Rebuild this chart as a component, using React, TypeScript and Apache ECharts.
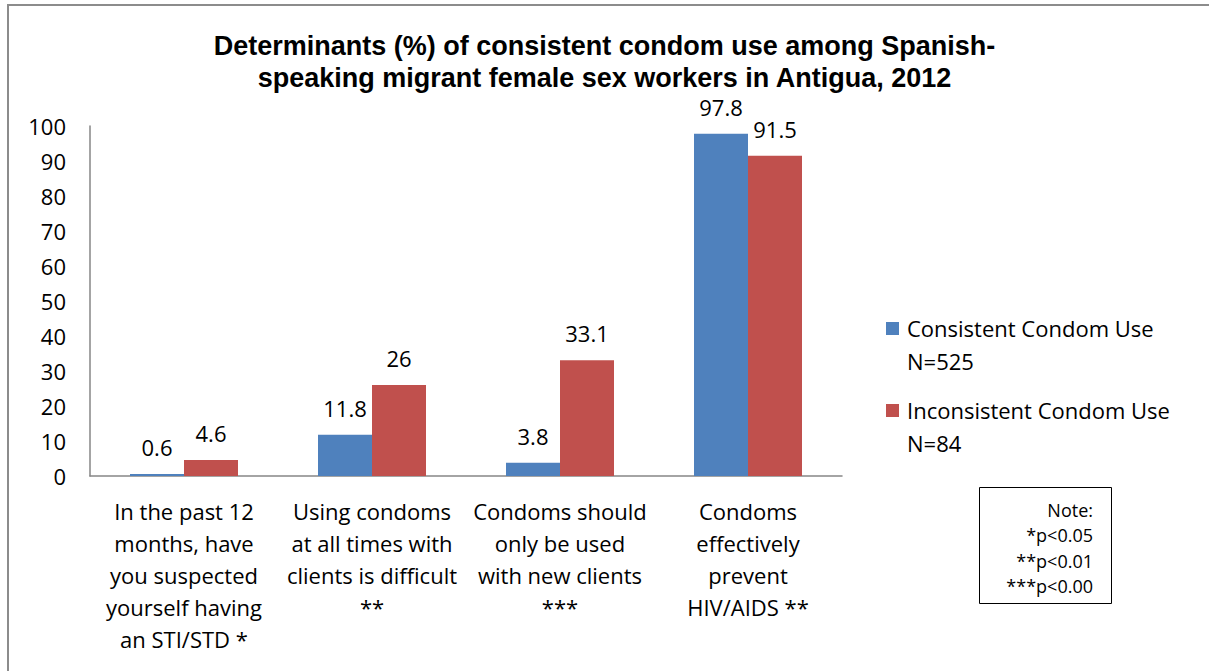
import React, { useEffect, useRef } from "react";
import * as echarts from "echarts";

const categories = [
  "In the past 12\nmonths, have\nyou suspected\nyourself having\nan STI/STD *",
  "Using condoms\nat all times with\nclients is difficult\n**",
  "Condoms should\nonly be used\nwith new clients\n***",
  "Condoms\neffectively\nprevent\nHIV/AIDS **",
];
const consistent = [0.6, 11.8, 3.8, 97.8];
const inconsistent = [4.6, 26, 33.1, 91.5];
const seriesNames = ["Consistent Condom Use", "Inconsistent Condom Use"];
const seriesN = ["N=525", "N=84"];
const noteLines = ["Note:", "*p<0.05", "**p<0.01", "***p<0.00"];
const titleText =
  "Determinants (%) of consistent condom use among Spanish-\nspeaking migrant female sex workers in Antigua, 2012";

const BLUE = "#4F81BD";
const RED = "#C0504D";
const FONT = "Open Sans";
const FS = 22;

export default function App() {
  const ref = useRef<HTMLDivElement>(null);
  useEffect(() => {
    if (!ref.current) return;
    const chart = echarts.init(ref.current, undefined, { renderer: "svg" });
    const legendY = [322, 404];
    const colors = [BLUE, RED];
    const legendGraphics: any[] = [];
    seriesNames.forEach((name, i) => {
      legendGraphics.push({
        type: "rect",
        shape: { x: 886, y: legendY[i], width: 13, height: 13 },
        style: { fill: colors[i] },
      });
      legendGraphics.push({
        type: "text",
        x: 907,
        y: legendY[i] + 6,
        style: { text: name, font: `${FS}px '${FONT}'`, fill: "#000", verticalAlign: "middle" },
      });
      legendGraphics.push({
        type: "text",
        x: 907,
        y: legendY[i] + 39,
        style: { text: seriesN[i], font: `${FS}px '${FONT}'`, fill: "#000", verticalAlign: "middle" },
      });
    });
    const noteY = [510, 535, 561, 586];
    const noteGraphics = noteLines.map((t, i) => ({
      type: "text",
      x: 1093,
      y: noteY[i],
      style: { text: t, font: `18px '${FONT}'`, fill: "#000", align: "right", verticalAlign: "middle" },
    }));
    const labelStyle = {
      show: true,
      position: "top",
      distance: 16,
      fontFamily: FONT,
      fontSize: FS,
      color: "#000",
    };
    chart.setOption({
      animation: false,
      backgroundColor: "#fff",
      title: {
        text: titleText,
        left: "center",
        top: 25,
        textStyle: {
          fontFamily: "Liberation Sans",
          fontWeight: "bold",
          fontSize: 27,
          lineHeight: 32,
          color: "#000",
        },
      },
      grid: { left: 90, top: 126, width: 752, height: 350, containLabel: false },
      xAxis: {
        type: "category",
        data: categories,
        axisLine: { show: true, lineStyle: { color: "#868686", width: 1.5 } },
        axisTick: { show: false },
        axisLabel: {
          interval: 0,
          fontFamily: FONT,
          fontSize: FS,
          lineHeight: 32,
          color: "#000",
          margin: 19,
        },
      },
      yAxis: {
        type: "value",
        min: 0,
        max: 100,
        interval: 10,
        splitLine: { show: false },
        axisLine: { show: true, lineStyle: { color: "#868686", width: 1.5 } },
        axisTick: { show: false },
        axisLabel: { fontFamily: FONT, fontSize: FS, color: "#000", margin: 24 },
      },
      series: [
        {
          name: seriesNames[0],
          type: "bar",
          data: consistent,
          barWidth: 54,
          barGap: "0%",
          itemStyle: { color: BLUE },
          label: labelStyle,
        },
        {
          name: seriesNames[1],
          type: "bar",
          data: inconsistent,
          barWidth: 54,
          barGap: "0%",
          itemStyle: { color: RED },
          label: labelStyle,
        },
      ],
      graphic: [
        {
          type: "rect",
          shape: { x: 8, y: 5, width: 1230, height: 700 },
          style: { fill: "none", stroke: "#8c8c8c", lineWidth: 2 },
          silent: true,
        },
        ...legendGraphics,
        {
          type: "rect",
          shape: { x: 979.5, y: 487.5, width: 132, height: 116 },
          style: { fill: "#fff", stroke: "#000", lineWidth: 1 },
        },
        ...noteGraphics,
      ],
    });
    return () => chart.dispose();
  }, []);
  return (
    <div
      ref={ref}
      style={{ position: "fixed", left: 0, top: 0, width: 1209, height: 671 }}
    />
  );
}
